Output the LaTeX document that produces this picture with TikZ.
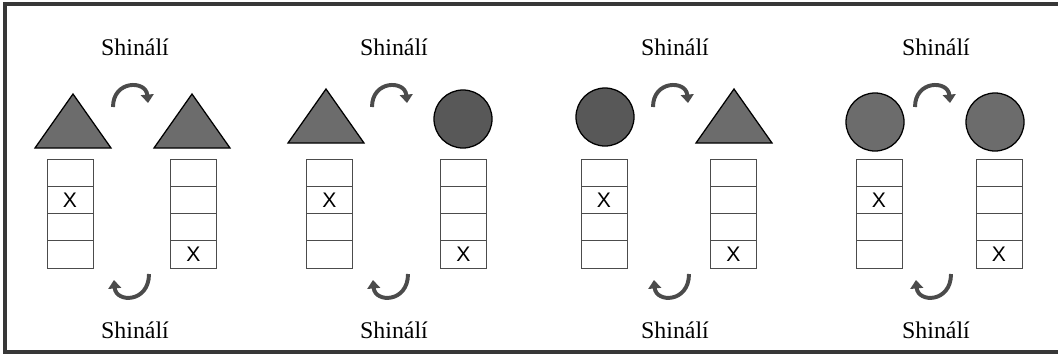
\documentclass[tikz,border=0pt]{standalone}
\usepackage{fontspec}
\setmainfont{Liberation Serif}
\setsansfont{Liberation Sans}
\usetikzlibrary{arrows.meta,positioning,calc}
\definecolor{inkgray}{RGB}{75,75,75}
\definecolor{trigray}{RGB}{108,108,108}
\definecolor{discgray}{RGB}{88,88,88}
\definecolor{framegray}{RGB}{55,55,55}

\begin{document}
\begin{tikzpicture}[
  x=0.025cm, y=-0.025cm,
  wordtag/.style={font=\fontsize{17}{18}\selectfont, inner sep=0pt},
  cell/.style={draw=black!70, line width=0.7pt, minimum width=1.15cm, minimum height=0.68cm, inner sep=0pt},
  xtag/.style={font=\sffamily\fontsize{15}{15}\selectfont, inner sep=0pt},
  disc/.style={circle, draw=black, line width=0.9pt, fill=discgray, minimum size=1.45cm, inner sep=0pt},
  tri/.style={draw=black, line width=0.9pt, fill=trigray, line join=miter},
  swap/.style={-{Triangle[length=6pt, width=9pt]}, line width=2.8pt, draw=inkgray}
]
  \useasboundingbox (0,0) rectangle (1058,362);

  % open frame (no right edge)
  \draw[framegray, line width=2.2pt] (1058,4) -- (5,4) -- (5,352) -- (1058,352);

  % four panels: stacks, captions and swap arrows
  \foreach \p/\m/\t/\xl/\xr in {1/131/135/70/193.5, 2/390/394/329.5/463.5, 3/671/675/604/733.5, 4/933/936/879/999} {
    \node[wordtag] (top\p) at (\t,47) {Shinálí};
    \node[wordtag] (bot\p) at (\t,330) {Shinálí};

    \foreach \k in {1,...,4} {
      \node[cell] (l\p c\k) at (\xl,{145.4+27.25*\k}) {};
      \node[cell] (r\p c\k) at (\xr,{145.4+27.25*\k}) {};
    }
    \node[xtag] (xl\p) at (l\p c2) {X};
    \node[xtag] (xr\p) at (r\p c4) {X};

    \coordinate (ta\p) at (\m-18,107);
    \coordinate (tb\p) at (\m+17,103);
    \draw[swap] (ta\p) .. controls (\m-18,80) and (\m+15,80) .. (tb\p);

    \coordinate (ba\p) at (\m+18,274);
    \coordinate (bb\p) at (\m-17,280);
    \draw[swap] (ba\p) .. controls (\m+18,303) and (\m-15,303) .. (bb\p);
  }

  % shapes above the stacks
  \coordinate (s1l) at (73,121);
  \coordinate (s1r) at (192,121);
  \coordinate (s2l) at (326,116);
  \coordinate (s3r) at (734,116);
  \filldraw[tri] ($(s1l)+(-38,27)$) -- ($(s1l)+(0,-27)$) -- ($(s1l)+(38,27)$) -- cycle;
  \filldraw[tri] ($(s1r)+(-38,27)$) -- ($(s1r)+(0,-27)$) -- ($(s1r)+(38,27)$) -- cycle;
  \filldraw[tri] ($(s2l)+(-38,27)$) -- ($(s2l)+(0,-27)$) -- ($(s2l)+(38,27)$) -- cycle;
  \node[disc] (s2r) at (463,119) {};
  \node[disc] (s3l) at (605,117) {};
  \filldraw[tri] ($(s3r)+(-38,27)$) -- ($(s3r)+(0,-27)$) -- ($(s3r)+(38,27)$) -- cycle;
  \node[disc, fill=trigray] (s4l) at (875,122) {};
  \node[disc, fill=trigray] (s4r) at (995,122) {};

\end{tikzpicture}
\end{document}
